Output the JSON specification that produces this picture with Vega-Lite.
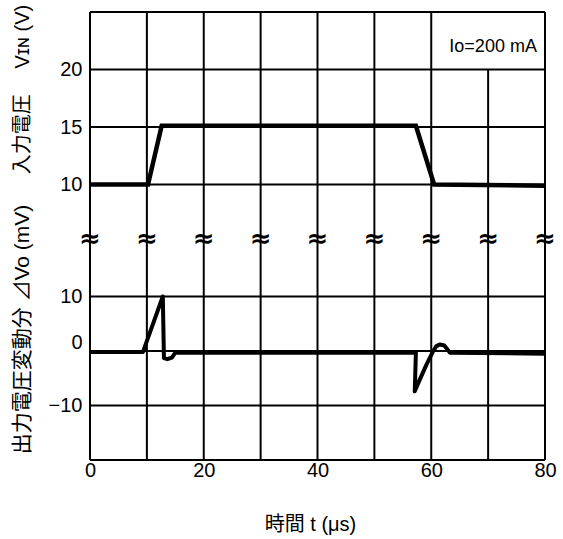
{
  "$schema": "https://vega.github.io/schema/vega-lite/v6.json",
  "padding": {"left": 10, "top": 4, "right": 5, "bottom": 2},
  "background": "white",
  "spacing": 0,
  "bounds": "flush",
  "config": {
    "view": {"stroke": null},
    "font": "Liberation Sans, Noto Sans CJK JP",
    "axis": {
      "domain": false,
      "ticks": false,
      "tickSize": 0,
      "grid": false,
      "labelFont": "Liberation Sans",
      "labelFontSize": 20,
      "labelColor": "black",
      "titleFont": "Liberation Sans, Noto Sans CJK JP",
      "titleFontSize": 20,
      "titleFontWeight": "normal",
      "titleColor": "black"
    }
  },
  "datasets": {
    "hgridU": [
      {"t": 0, "t2": 80, "v": 10},
      {"t": 0, "t2": 80, "v": 15},
      {"t": 0, "t2": 80, "v": 20},
      {"t": 0, "t2": 80, "v": 25}
    ],
    "vgridU": [
      {"t": 0, "v": 5, "v2": 25},
      {"t": 10, "v": 5, "v2": 25},
      {"t": 20, "v": 5, "v2": 25},
      {"t": 30, "v": 5, "v2": 25},
      {"t": 40, "v": 5, "v2": 25},
      {"t": 50, "v": 5, "v2": 25},
      {"t": 60, "v": 5, "v2": 25},
      {"t": 70, "v": 5, "v2": 20},
      {"t": 80, "v": 5, "v2": 25}
    ],
    "vin": [
      {"t": 0, "v": 10},
      {"t": 10.2, "v": 10},
      {"t": 12.6, "v": 15.1},
      {"t": 57.3, "v": 15.1},
      {"t": 60.5, "v": 10},
      {"t": 80, "v": 9.9}
    ],
    "breaks": [
      {"t": 0, "v": 5, "s": "≈"},
      {"t": 10, "v": 5, "s": "≈"},
      {"t": 20, "v": 5, "s": "≈"},
      {"t": 30, "v": 5, "s": "≈"},
      {"t": 40, "v": 5, "s": "≈"},
      {"t": 50, "v": 5, "s": "≈"},
      {"t": 60, "v": 5, "s": "≈"},
      {"t": 70, "v": 5, "s": "≈"},
      {"t": 80, "v": 5, "s": "≈"}
    ],
    "note": [
      {"t": 70, "v": 22, "s": "Io=200 mA"}
    ],
    "hgridL": [
      {"t": 0, "t2": 80, "v": 10},
      {"t": 0, "t2": 80, "v": 0},
      {"t": 0, "t2": 80, "v": -10},
      {"t": 0, "t2": 80, "v": -20}
    ],
    "vgridL": [
      {"t": 0, "v": -20, "v2": 20},
      {"t": 10, "v": -20, "v2": 20},
      {"t": 20, "v": -20, "v2": 20},
      {"t": 30, "v": -20, "v2": 20},
      {"t": 40, "v": -20, "v2": 20},
      {"t": 50, "v": -20, "v2": 20},
      {"t": 60, "v": -20, "v2": 20},
      {"t": 70, "v": -20, "v2": 20},
      {"t": 80, "v": -20, "v2": 20}
    ],
    "dvo": [
      {"t": 0, "v": -0.2},
      {"t": 9.3, "v": -0.2},
      {"t": 12.8, "v": 10},
      {"t": 13.0, "v": -1.3},
      {"t": 13.6, "v": -1.5},
      {"t": 14.4, "v": -1.2},
      {"t": 15.0, "v": -0.3},
      {"t": 57.3, "v": -0.3},
      {"t": 57.1, "v": -7.4},
      {"t": 58.0, "v": -5.2},
      {"t": 59.2, "v": -2.4},
      {"t": 60.3, "v": -0.1},
      {"t": 60.9, "v": 0.9},
      {"t": 61.5, "v": 1.2},
      {"t": 62.3, "v": 1.0},
      {"t": 63.3, "v": -0.3},
      {"t": 80, "v": -0.5}
    ]
  },
  "vconcat": [
    {
      "width": 455,
      "height": 230,
      "encoding": {
        "x": {"field": "t", "type": "quantitative", "scale": {"domain": [0, 80], "nice": false, "zero": false}, "axis": null},
        "y": {"field": "v", "type": "quantitative", "scale": {"domain": [5, 25], "nice": false, "zero": false},
          "axis": {"values": [10, 15, 20], "labelPadding": 8, "title": "入力電圧　 Vɪɴ (V)", "titleX": -68, "titleY": 77, "titleBaseline": "middle", "titleAngle": -90}}
      },
      "layer": [
        {"data": {"name": "hgridU"}, "mark": {"type": "rule", "color": "black", "strokeWidth": 2}, "encoding": {"x2": {"field": "t2"}}},
        {"data": {"name": "vgridU"}, "mark": {"type": "rule", "color": "black", "strokeWidth": 2}, "encoding": {"y2": {"field": "v2"}}},
        {"data": {"name": "vin"}, "mark": {"type": "line", "color": "black", "strokeWidth": 4.5, "strokeJoin": "miter"}, "encoding": {}},
        {"data": {"name": "breaks"}, "mark": {"type": "text", "font": "DejaVu Sans", "fontSize": 26, "fontWeight": "bold", "baseline": "middle", "align": "center", "dy": -3, "color": "black"}, "encoding": {"text": {"field": "s"}}},
        {"data": {"name": "note"}, "mark": {"type": "text", "font": "Liberation Sans", "fontSize": 18, "baseline": "middle", "align": "center", "dx": 5, "color": "black"}, "encoding": {"text": {"field": "s"}}}
      ]
    },
    {
      "width": 455,
      "height": 218,
      "encoding": {
        "x": {"field": "t", "type": "quantitative", "scale": {"domain": [0, 80], "nice": false, "zero": false},
          "axis": {"values": [0, 20, 40, 60, 80], "labelFlush": false, "labelPadding": 0, "title": "時間  t (μs)", "titleY": 64, "titleX": 220, "titleBaseline": "middle"}},
        "y": {"field": "v", "type": "quantitative", "scale": {"domain": [-20, 20], "nice": false, "zero": false},
          "axis": {"values": [-10, 0, 10], "labelPadding": 8, "labelOffset": {"condition": {"test": "datum.value === 0", "value": -9}, "value": 0}, "title": "出力電圧変動分 ⊿Vo  (mV)", "titleFontSize": 21, "titleX": -68, "titleY": 87, "titleBaseline": "middle", "titleAngle": -90}}
      },
      "layer": [
        {"data": {"name": "hgridL"}, "mark": {"type": "rule", "color": "black", "strokeWidth": 2}, "encoding": {"x2": {"field": "t2"}}},
        {"data": {"name": "vgridL"}, "mark": {"type": "rule", "color": "black", "strokeWidth": 2}, "encoding": {"y2": {"field": "v2"}}},
        {"data": {"name": "dvo"}, "mark": {"type": "line", "color": "black", "strokeWidth": 4, "strokeJoin": "round"}, "encoding": {"order": {"value": null}}}
      ]
    }
  ],
  "resolve": {"scale": {"y": "independent"}}
}
